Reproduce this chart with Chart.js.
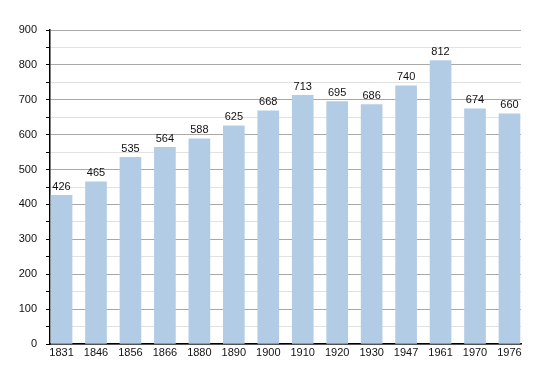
<!DOCTYPE html>
<html lang="en">
<head>
  <meta charset="UTF-8" />
  <title>Population 1831-1976</title>
  <script src="https://cdn.jsdelivr.net/npm/chart.js"></script>
  <style>
    body { margin: 0; background: #fff; }
    canvas { display: block; }
  </style>
</head>
<body>
  <canvas id="popChart" width="550" height="373"></canvas>

  <script>
    const years = ['1831', '1846', '1856', '1866', '1880', '1890', '1900', '1910', '1920', '1930', '1947', '1961', '1970', '1976'];
    const population = [426, 465, 535, 564, 588, 625, 668, 713, 695, 686, 740, 812, 674, 660];
    const yTicks = [0, 100, 200, 300, 400, 500, 600, 700, 800, 900];

    // value labels above each bar
    const barLabels = {
      id: 'barLabels',
      afterDatasetsDraw(chart) {
        const ctx = chart.ctx;
        const meta = chart.getDatasetMeta(0);
        ctx.save();
        ctx.font = '11px "Liberation Sans", Arial, sans-serif';
        ctx.fillStyle = '#111';
        ctx.textAlign = 'center';
        ctx.textBaseline = 'bottom';
        meta.data.forEach((bar, i) => {
          ctx.fillText(population[i], bar.x, bar.y - 3);
        });
        ctx.restore();
      }
    };

    new Chart(document.getElementById('popChart'), {
      type: 'bar',
      data: {
        datasets: [{
          data: population.map((v, i) => ({ x: i, y: v })),
          backgroundColor: '#b3cce6',
          borderWidth: 0,
          barThickness: 21
        }]
      },
      options: {
        responsive: false,
        animation: false,
        layout: { padding: { left: 0, right: 29, top: 30, bottom: 0 } },
        plugins: { legend: { display: false }, tooltip: { enabled: false } },
        scales: {
          x: {
            type: 'linear',
            min: -0.335,
            max: 13.335,
            offset: false,
            afterBuildTicks: scale => {
              scale.ticks = years.map((y, i) => ({ value: i }));
            },
            afterFit: scale => { scale.height = 29; },
            grid: { display: false, drawTicks: false },
            border: { color: '#000', width: 1.5 },
            ticks: {
              autoSkip: false,
              maxRotation: 0,
              padding: 2,
              color: '#111',
              font: { family: '"Liberation Sans", Arial, sans-serif', size: 11 },
              callback: v => years[v]
            }
          },
          y: {
            min: 0,
            max: 900,
            afterBuildTicks: scale => {
              const t = [];
              for (let v = 0; v <= 900; v += 50) t.push({ value: v });
              scale.ticks = t;
            },
            afterFit: scale => { scale.width = 50; },
            grid: {
              color: c => c.tick.value % 100 === 0 ? '#a8a8a8' : '#e2e2e2',
              tickColor: '#000',
              tickLength: 4,
              lineWidth: 1
            },
            border: { color: '#000', width: 1.5 },
            ticks: {
              padding: 9,
              color: '#111',
              font: { family: '"Liberation Sans", Arial, sans-serif', size: 11 },
              callback: v => yTicks.includes(v) ? v : ''
            }
          }
        }
      },
      plugins: [barLabels]
    });
  </script>
</body>
</html>
